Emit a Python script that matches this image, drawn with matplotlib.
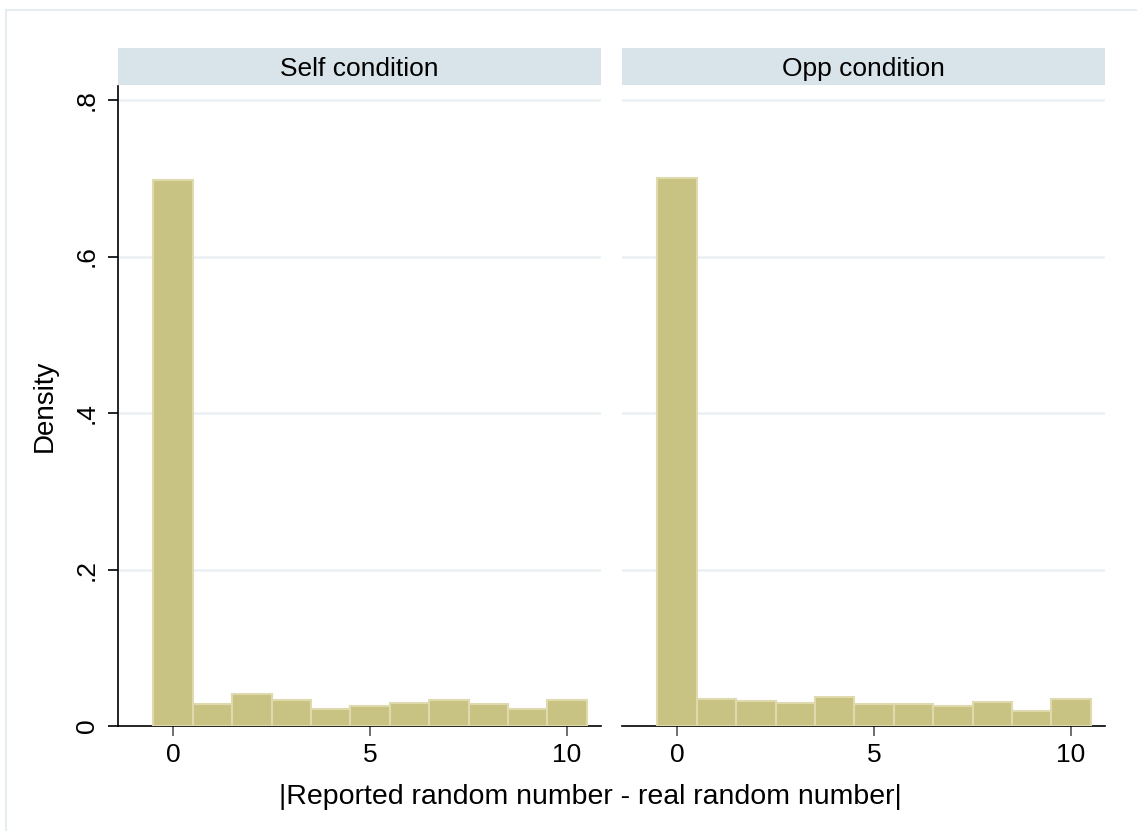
import matplotlib
matplotlib.use("Agg")
import matplotlib.pyplot as plt
import matplotlib.patches as mpatches
import numpy as np

plt.rcParams["font.family"] = ["Liberation Sans", "DejaVu Sans"]

# データ（図から読み取った密度）
bins = np.arange(0, 11)
self_density = [0.698, 0.028, 0.041, 0.033, 0.022, 0.026, 0.030, 0.033, 0.028, 0.022, 0.033]
opp_density = [0.700, 0.034, 0.032, 0.029, 0.037, 0.028, 0.028, 0.025, 0.031, 0.019, 0.034]
panel_titles = ["Self condition", "Opp condition"]
yticks = [0, 0.2, 0.4, 0.6, 0.8]
ytick_labels = ["0", ".2", ".4", ".6", ".8"]
xticks = [0, 5, 10]

BAR_COLOR = "#c9c383"
BAR_EDGE = "#dedaae"
STRIP_COLOR = "#d9e4ea"
GRID_COLOR = "#eaf0f3"

W, H = 1137, 831
fig = plt.figure(figsize=(W / 100, H / 100), dpi=100)

# 外枠
fig.patches.append(mpatches.Rectangle((6 / W, -0.05), 1.1, 1 - 10 / H + 0.05,
                                      transform=fig.transFigure, fill=False,
                                      edgecolor="#e6edf1", linewidth=1.5))

lefts = [118, 622]
ax_w = 483
ax_bottom = (H - 726) / H
ax_h = 640 / H

axes = []
for i, (left, dens, title) in enumerate(zip(lefts, [self_density, opp_density], panel_titles)):
    ax = fig.add_axes([left / W, ax_bottom, ax_w / W, ax_h])
    ax.bar(bins, dens, width=1.0, color=BAR_COLOR, edgecolor=BAR_EDGE, linewidth=1.5, zorder=3)
    ax.set_xlim(-1.4, 10.86)
    ax.set_ylim(0, 0.818)
    ax.set_yticks(yticks)
    for y in yticks[1:]:
        ax.axhline(y, color=GRID_COLOR, linewidth=1.8, zorder=1)
    for s in ["top", "right"]:
        ax.spines[s].set_visible(False)
    ax.spines["bottom"].set_color("black")
    ax.spines["bottom"].set_linewidth(1.2)
    ax.set_xticks(xticks)
    ax.tick_params(axis="x", length=7, width=1.2, color="#555555", labelsize=19, pad=5)
    if i == 0:
        ax.spines["left"].set_color("black")
        ax.spines["left"].set_linewidth(1.2)
        ax.set_yticklabels(ytick_labels, rotation=90, va="center")
        ax.tick_params(axis="y", length=7, width=1.2, color="black", labelsize=19, pad=7)
        ax.set_ylabel("Density", fontsize=20, labelpad=12)
    else:
        ax.spines["left"].set_visible(False)
        ax.tick_params(axis="y", length=0, labelleft=False)

    # ストリップ（パネル見出し）
    strip = fig.add_axes([left / W, (H - 85) / H, ax_w / W, 37 / H])
    strip.set_facecolor(STRIP_COLOR)
    strip.set_xticks([])
    strip.set_yticks([])
    for s in strip.spines.values():
        s.set_visible(False)
    strip.text(0.5, 0.43, title, ha="center", va="center", fontsize=19, transform=strip.transAxes)
    axes.append(ax)

fig.text(590 / W, 1 - 797 / H, "|Reported random number - real random number|",
         ha="center", va="center", fontsize=20.5)

fig.savefig("out.png", dpi=100, facecolor="white")
